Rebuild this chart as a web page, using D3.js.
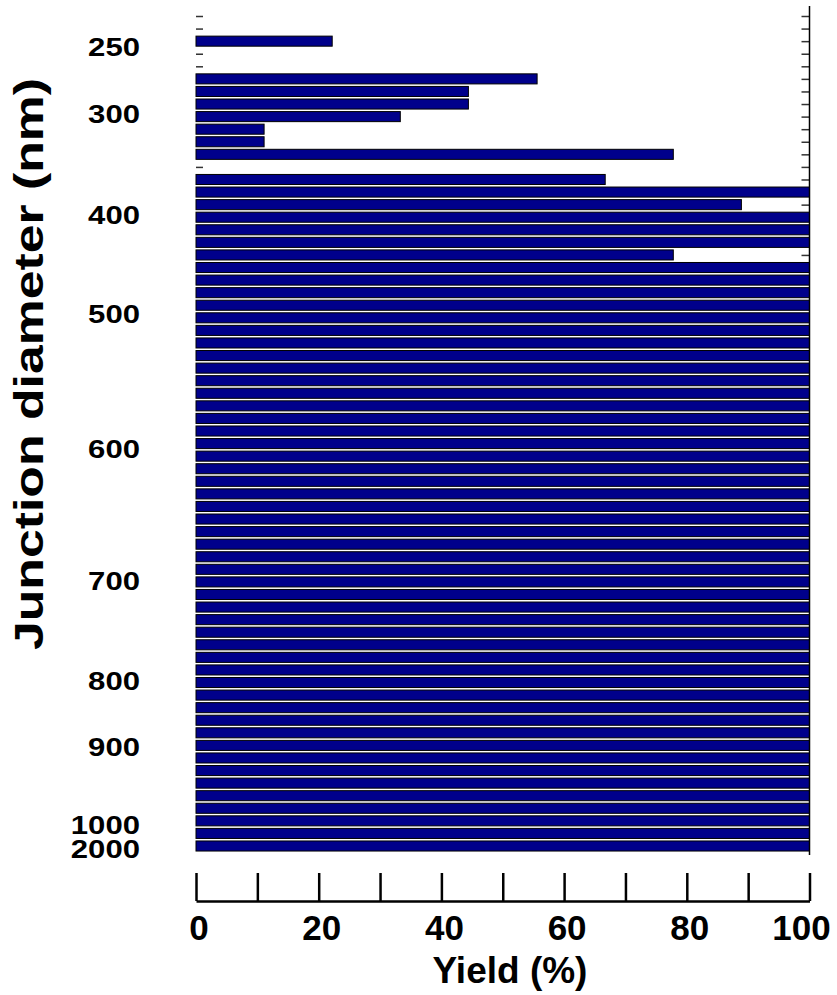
<!DOCTYPE html>
<html>
<head>
<meta charset="utf-8">
<script src="https://cdn.jsdelivr.net/npm/d3@7"></script>
<style>
  body { margin: 0; background: #fff; }
  svg text { font-family: "Liberation Sans", Arial, sans-serif; font-weight: bold; fill: #000; }
</style>
</head>
<body>
<div id="chart"></div>
<script>
// yield (%) per junction row, top to bottom; null = no devices in that row
var yields = [
  null, null, 22.2, null, null, 55.6, 44.4, 44.4, 33.3, 11.1,
  11.1, 77.8, null, 66.7, 100, 88.9, 100, 100, 100, 77.8,
  100, 100, 100, 100, 100, 100, 100, 100, 100, 100,
  100, 100, 100, 100, 100, 100, 100, 100, 100, 100,
  100, 100, 100, 100, 100, 100, 100, 100, 100, 100,
  100, 100, 100, 100, 100, 100, 100, 100, 100, 100,
  100, 100, 100, 100, 100, 100, 100
];
// where each diameter label sits, in row units
var tickRows  = [2.5, 7.8, 15.8, 23.7, 34.4, 44.9, 52.9, 58.1, 64.3, 66.2];
var tickTexts = ["250", "300", "400", "500", "600", "700", "800", "900", "1000", "2000"];
var xTicks = [0, 10, 20, 30, 40, 50, 60, 70, 80, 90, 100];
var xLabels = [0, 20, 40, 60, 80, 100];

var width = 837, height = 995;
var rows = yields.map(function(d, i) { return i; });

var svg = d3.select("#chart")
  .append("svg")
  .attr("width", width)
  .attr("height", height);

var x = d3.scaleLinear().domain([0, 100]).range([196, 809.5]);
var y = d3.scalePoint().domain(rows).range([16, 846]);
// same mapping, continuous, for the labels
var yRow = d3.scaleLinear().domain([0, rows.length - 1]).range(y.range());
var barH = y.step() * 0.8;

// small row ticks on both sides (drawn under the bars)
var leftTicks = svg.append("g")
  .attr("transform", "translate(" + x(0) + ",0)")
  .call(d3.axisRight(y).tickSize(7).tickSizeOuter(0).tickFormat(""));
var rightTicks = svg.append("g")
  .attr("transform", "translate(" + x(100) + ",0)")
  .call(d3.axisLeft(y).tickSize(8).tickSizeOuter(0).tickFormat(""));
leftTicks.select(".domain").remove();
rightTicks.select(".domain").remove();
svg.selectAll(".tick line").attr("stroke", "#333").attr("stroke-width", 1.5);

// bars
svg.append("g")
  .selectAll("rect")
  .data(rows.filter(function(i) { return yields[i] !== null; }))
  .enter()
  .append("rect")
  .attr("x", x(0))
  .attr("y", function(i) { return y(i) - barH / 2; })
  .attr("width", function(i) { return x(yields[i]) - x(0); })
  .attr("height", barH)
  .attr("fill", "#00008b")
  .attr("stroke", "#000")
  .attr("stroke-width", 1);

// right frame line
svg.append("line")
  .attr("x1", x(100)).attr("x2", x(100))
  .attr("y1", y(0) - 10).attr("y2", y(rows.length - 1) + 9)
  .attr("stroke", "#000")
  .attr("stroke-width", 1.5);

// diameter labels
svg.append("g")
  .selectAll("text")
  .data(tickRows)
  .enter()
  .append("text")
  .attr("transform", function(r) { return "translate(140," + (yRow(r) + 9) + ") scale(1.22,1)"; })
  .attr("text-anchor", "end")
  .style("font-size", "25.5px")
  .text(function(r, i) { return tickTexts[i]; });

// detached x axis
var xAxisG = svg.append("g")
  .attr("transform", "translate(0,901)")
  .call(d3.axisTop(x).tickValues(xTicks).tickSize(28).tickSizeOuter(0).tickFormat(""));
xAxisG.select(".domain").attr("stroke", "#000").attr("stroke-width", 2.5);
xAxisG.selectAll(".tick line").attr("stroke", "#000").attr("stroke-width", 2.5);

svg.append("g")
  .selectAll("text")
  .data(xLabels)
  .enter()
  .append("text")
  .attr("x", function(d) { return d === 100 ? x(d) - 8 : x(d) + 3; })
  .attr("y", 940)
  .attr("text-anchor", "middle")
  .style("font-size", "35px")
  .text(function(d) { return d; });

svg.append("text")
  .attr("x", 510)
  .attr("y", 983)
  .attr("text-anchor", "middle")
  .style("font-size", "37px")
  .text("Yield (%)");

svg.append("text")
  .attr("transform", "translate(43,364) rotate(-90)")
  .attr("text-anchor", "middle")
  .attr("textLength", 572)
  .attr("lengthAdjust", "spacingAndGlyphs")
  .style("font-size", "41px")
  .text("Junction diameter (nm)");
</script>
</body>
</html>
